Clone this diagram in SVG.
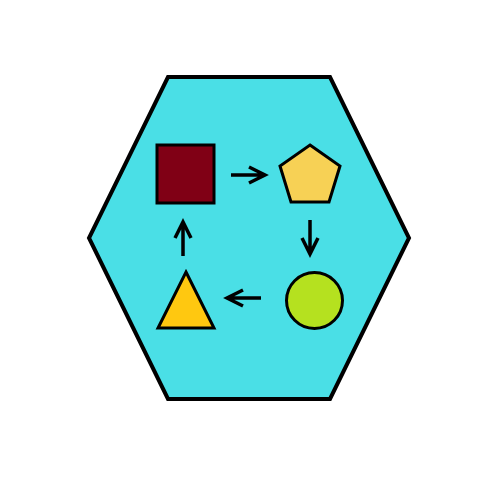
<svg xmlns="http://www.w3.org/2000/svg" width="500" height="500" viewBox="0 0 500 500">
<style>
.sh{stroke:#000;stroke-width:3;stroke-linejoin:miter}
.ar{stroke:#000;stroke-width:3.5;fill:none;stroke-linecap:butt;stroke-linejoin:miter}
</style>
<rect width="500" height="500" fill="#fff"/>
<polygon points="168,77 330,77 409,238 330,399 168,399 89,238" fill="#4adfe6" stroke="#000" stroke-width="4"/>
<g id="square"><rect class="sh" x="157" y="145" width="57" height="58" fill="#800015"/></g>
<g id="pentagon"><polygon class="sh" points="310,145 340,166 329,202 291,202 280,166" fill="#f7d155"/></g>
<g id="circle"><circle class="sh" cx="314.5" cy="300.5" r="28" fill="#b5e11f"/></g>
<g id="triangle"><polygon class="sh" points="186,272 214,328 158,328" fill="#ffc810"/></g>
<g id="connectors">
<path class="ar" d="M231,175 H265 M249,167 L265,175 L249,183"/>
<path class="ar" d="M310,220 V254 M302,238 L310,254 L318,238"/>
<path class="ar" d="M261,298 H227 M243,290 L227,298 L243,306"/>
<path class="ar" d="M183,256 V222 M175,238 L183,222 L191,238"/>
</g>
</svg>
